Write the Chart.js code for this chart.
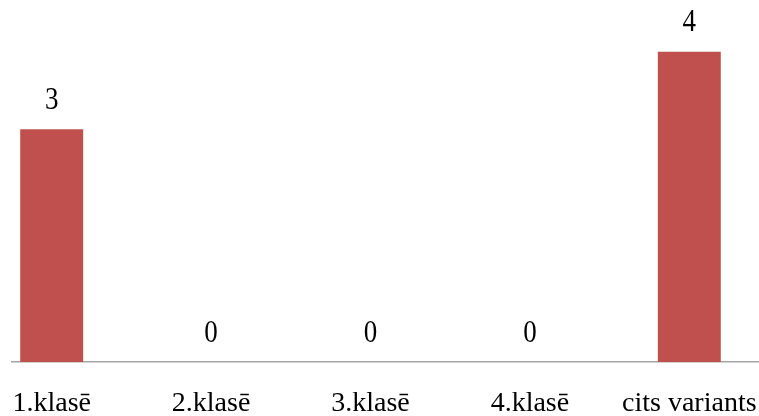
<!DOCTYPE html>
<html>
<head>
<meta charset="utf-8">
<script src="https://cdn.jsdelivr.net/npm/chart.js@4/dist/chart.umd.min.js"></script>
<style>
  html, body { margin: 0; padding: 0; background: #ffffff; overflow: hidden; width: 759px; height: 416px; }
  #clip { position: absolute; left: 11px; top: 0; width: 748px; height: 416px; overflow: hidden; }
  #wrap { position: absolute; left: -39px; top: 0; width: 797px; height: 421px; }
</style>
</head>
<body>
<div id="clip"><div id="wrap"><canvas id="c" width="797" height="421"></canvas></div></div>
<script>
const categories = ['1.klasē', '2.klasē', '3.klasē', '4.klasē', 'cits variants'];
const counts = [3, 0, 0, 0, 4];

const FONT = '"Liberation Serif", "Times New Roman", serif';

// Writes each bar's value above it, in slightly tall numerals
const valueLabels = {
  id: 'valueLabels',
  afterDatasetsDraw(chart) {
    const ctx = chart.ctx;
    const meta = chart.getDatasetMeta(0);
    const stretch = 1.15;
    meta.data.forEach((bar, i) => {
      ctx.save();
      ctx.translate(bar.x, bar.y - 28.5);
      ctx.scale(1, stretch);
      ctx.font = '27px ' + FONT;
      ctx.fillStyle = '#000000';
      ctx.textAlign = 'center';
      ctx.textBaseline = 'middle';
      ctx.fillText(String(counts[i]), 0, 0);
      ctx.restore();
    });
  }
};

new Chart(document.getElementById('c'), {
  type: 'bar',
  data: {
    labels: categories,
    datasets: [{
      data: counts,
      backgroundColor: '#C0504D',
      borderWidth: 0,
      barPercentage: 0.395,
      categoryPercentage: 1.0
    }]
  },
  options: {
    responsive: false,
    animation: false,
    devicePixelRatio: 1,
    layout: { padding: { top: 13, left: 0, right: 0, bottom: 0 } },
    plugins: { legend: { display: false }, tooltip: { enabled: false } },
    scales: {
      x: {
        grid: { display: false, drawTicks: false },
        border: { display: true, color: '#A6A6A6', width: 1.5 },
        ticks: { color: '#000000', padding: 25, maxRotation: 0, autoSkip: false, font: { family: FONT, size: 28 } },
        // keep the category band full width and the label strip a fixed height
        afterFit(scale) {
          scale.paddingLeft = 0;
          scale.paddingRight = 0;
          scale.height = 59;
        }
      },
      y: {
        display: false,
        min: 0,
        max: 4.5
      }
    }
  },
  plugins: [valueLabels]
});
</script>
</body>
</html>
